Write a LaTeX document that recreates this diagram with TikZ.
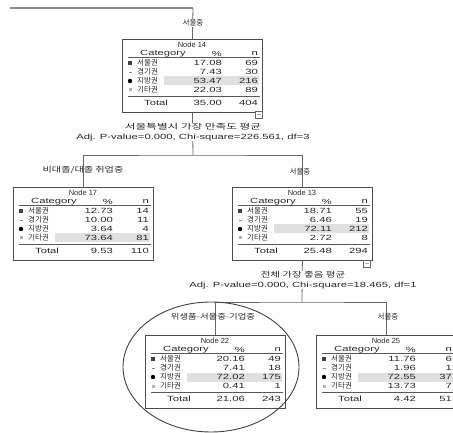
\documentclass[tikz,border=0pt]{standalone}
\usepackage{fontspec}
\setmainfont{Liberation Sans}
\newfontfamily\kr{Noto Sans CJK KR}
\usepackage{graphicx}
\usetikzlibrary{shapes.geometric}
\tikzset{
  nodebox/.style={draw=black!70, line width=0.8pt, minimum width=140pt, minimum height=73pt, inner sep=0pt},
  conn/.style={draw=black!60, line width=0.8pt},
  rule/.style={draw=black!65, line width=0.6pt},
  txt/.style={inner sep=0pt, font=\fontsize{7.5}{8}\selectfont, text=black!85},
  ttl/.style={txt},
  lbl/.style={inner sep=1pt, font=\fontsize{7.5}{8}\selectfont, text=black!85},
  splittxt/.style={inner sep=0.5pt, fill=white, align=center, font=\fontsize{7.5}{9.5}\selectfont, text=black!85},
  marker/.style={draw=black!60, line width=0.6pt, minimum size=7pt, inner sep=0pt, fill=white, font=\fontsize{6}{6}\selectfont},
  hilite/.style={draw=black!75, line width=0.9pt, ellipse, minimum width=176pt, minimum height=130pt, inner sep=0pt}
}
\newcommand\wl[1]{\scalebox{1.5}[1]{#1}}
\newcommand\wk[1]{\scalebox{1.25}[1]{\kr #1}}
\newcommand\wkk[2]{\scalebox{#1}[1]{\kr #2}}
% #1 name, #2 x, #3 y, #4 title, #5 rows, #6 total %, #7 total n, #8 shaded row
\newcommand\treenode[8]{%
  \node[nodebox, anchor=north west] (#1) at (#2,#3) {};
  \begin{scope}[shift={(#2,#3)}]
    \fill[black!12] (42,{24+9*(#8-1)-4.5}) rectangle (137,{24+9*(#8-1)+4.5});
    \node[ttl] at (70,6) {#4};
    \node[txt, anchor=west] at (18,14.5) {\wl{Category}};
    \node[txt, anchor=east] at (100,14.5) {\wl{\%}};
    \node[txt, anchor=east] at (136,14.5) {\wl{n}};
    \draw[rule] (6,18.5) -- (138,18.5);
    \fill[black!75] (6,22) rectangle (10,26);
    \draw[black!45, line width=0.8pt] (6.5,33) -- (9.5,33);
    \fill[black] (8,42) circle (2.2pt);
    \fill[black!30] (6.5,49.5) rectangle (9.5,52.5);
    \foreach \lab/\pc/\nn [count=\i from 0] in {#5} {
      \node[txt, anchor=west] at (15,{24+9*\i}) {\kr\lab};
      \node[txt, anchor=east] at (100,{24+9*\i}) {\wl{\pc}};
      \node[txt, anchor=east] at (136,{24+9*\i}) {\wl{\nn}};
    }
    \draw[rule] (6,57) -- (138,57);
    \node[txt, anchor=west] at (22,64) {\wl{Total}};
    \node[txt, anchor=east] at (100,64) {\wl{#6}};
    \node[txt, anchor=east] at (136,64) {\wl{#7}};
  \end{scope}
}
\begin{document}
\begin{tikzpicture}[x=1pt, y=-1pt]
\useasboundingbox (0,0) rectangle (453,433);

% nodes
\treenode{n14}{122}{39}{Node 14}{서울권/17.08/69, 경기권/7.43/30, 지방권/53.47/216, 기타권/22.03/89}{35.00}{404}{3}
\treenode{n17}{13}{187}{Node 17}{서울권/12.73/14, 경기권/10.00/11, 지방권/3.64/4, 기타권/73.64/81}{9.53}{110}{4}
\treenode{n13}{232}{187}{Node 13}{서울권/18.71/55, 경기권/6.46/19, 지방권/72.11/212, 기타권/2.72/8}{25.48}{294}{3}
\treenode{n22}{145}{335}{Node 22}{서울권/20.16/49, 경기권/7.41/18, 지방권/72.02/175, 기타권/0.41/1}{21.06}{243}{3}
\treenode{n25}{316}{335}{Node 25}{서울권/11.76/6, 경기권/1.96/1, 지방권/72.55/37, 기타권/13.73/7}{4.42}{51}{3}

% incoming line
\coordinate (topR) at (193,8);
\coordinate (topL) at (10,8);
\draw[draw=black!45, line width=1.6pt] (topL) -- (topR);
\draw[conn] (topR) -- (n14.north);
\node[lbl, fill=white] (b14) at (193,23) {\kr 서울중};

% split of node 14
\coordinate (s14) at (193,155);
\draw[conn] (n14.south) -- (s14);
\draw[conn] (n17.north) |- (s14) -| (n13.north);
\node[splittxt] (t14) at (193,132) {{\wkk{1.55}{서울특별시 가장 만족도 평균}}\\\wl{Adj. P-value=0.000, Chi-square=226.561, df=3}};
\node[lbl] (b17) at (83,170) {\wkk{1.35}{비대졸/대졸 취업중}};
\node[lbl] (b13) at (300,172) {\kr 서울중};
\node[marker] (m14) at (259,115) {$-$};

% split of node 13
\coordinate (s13) at (302,302);
\draw[conn] (n13.south) -- (s13);
\draw[conn] (n22.north) |- (s13) -| (n25.north);
\node[splittxt] (t13) at (303,280) {{\wkk{1.4}{전체 가장 좋음 평균}}\\\wl{Adj. P-value=0.000, Chi-square=18.465, df=1}};
\node[lbl] (b22) at (213,317) {\wk{위생품-서울중-기업중}};
\node[lbl] (b25) at (388,317) {\kr 서울중};
\node[marker] (m13) at (367,264) {$-$};

% highlight ellipse
\node[hilite] (hl) at (211,367) {};
\end{tikzpicture}
\end{document}
